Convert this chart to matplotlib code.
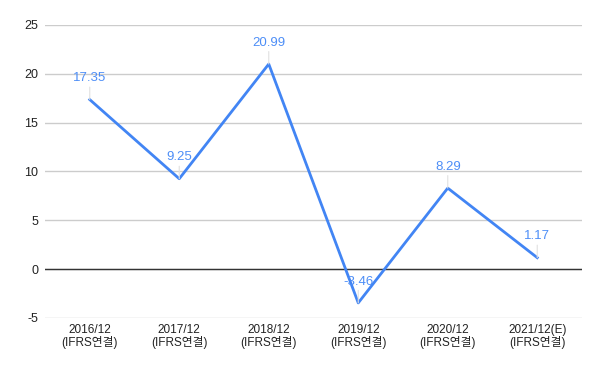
import matplotlib
matplotlib.use('Agg')
import matplotlib.pyplot as plt

plt.rcParams['font.family'] = ['Liberation Sans', 'Noto Sans CJK KR', 'DejaVu Sans']
plt.rcParams['axes.unicode_minus'] = False

# Data
periods = ['2016/12\n(IFRS연결)', '2017/12\n(IFRS연결)', '2018/12\n(IFRS연결)',
           '2019/12\n(IFRS연결)', '2020/12\n(IFRS연결)', '2021/12(E)\n(IFRS연결)']
values = [17.35, 9.25, 20.99, -3.46, 8.29, 1.17]
labels = ['17.35', '9.25', '20.99', '-3.46', '8.29', '1.17']
yticks = [-5, 0, 5, 10, 15, 20, 25]

fig = plt.figure(figsize=(6, 3.71), dpi=100)
ax = fig.add_axes([0.075, 0.143, 0.895, 0.79])

x = list(range(len(values)))
ax.plot(x, values, color='#4285f4', linewidth=2, zorder=3)

for xi, v, t in zip(x, values, labels):
    ax.annotate(t, xy=(xi, v), xytext=(0, 11), textcoords='offset points',
                ha='center', va='bottom', fontsize=9.5, color='#4d8ef7',
                arrowprops=dict(arrowstyle='-', color='#e0e0e0', lw=0.8,
                                shrinkA=0, shrinkB=0), zorder=4)

ax.axhline(0, color='#333333', linewidth=1, zorder=2)
ax.set_xlim(-0.5, len(values) - 0.5)
ax.set_ylim(-5, 25)
ax.set_yticks(yticks)
ax.set_xticks(x)
ax.set_xticklabels(periods, fontsize=8.5, color='#222222', linespacing=1.0)
ax.tick_params(axis='y', labelsize=9, colors='#222222', length=0, pad=5)
ax.tick_params(axis='x', length=0, pad=4)
ax.grid(axis='y', color='#cccccc', linewidth=1, zorder=1)
for s in ax.spines.values():
    s.set_visible(False)

fig.savefig('out.png', dpi=100)
